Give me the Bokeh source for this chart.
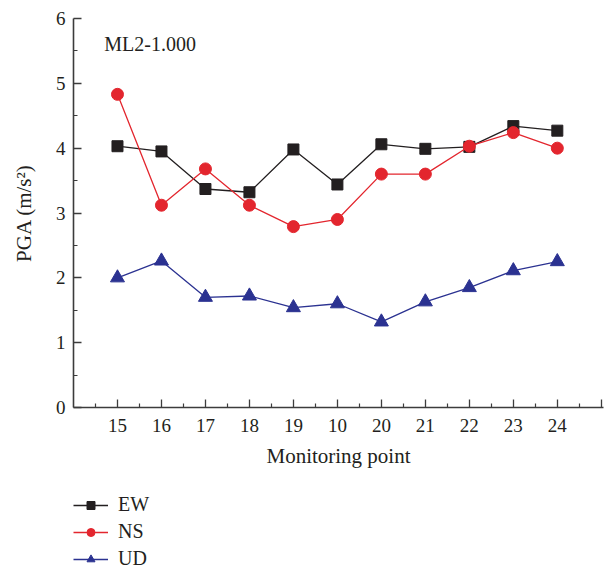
from bokeh.plotting import figure
from bokeh.layouts import column
from bokeh.models import (ColumnDataSource, FixedTicker, Legend, LegendItem, Label, Range1d)
from bokeh.embed import file_html
from bokeh.resources import INLINE

points = ["15", "16", "17", "18", "19", "10", "20", "21", "22", "23", "24"]
ew = [4.03, 3.95, 3.37, 3.32, 3.98, 3.44, 4.06, 3.99, 4.02, 4.34, 4.27]
ns = [4.83, 3.12, 3.68, 3.12, 2.79, 2.90, 3.60, 3.60, 4.03, 4.24, 4.00]
ud = [2.00, 2.26, 1.70, 1.72, 1.54, 1.60, 1.32, 1.63, 1.85, 2.11, 2.25]
y_ticks = [0, 1, 2, 3, 4, 5, 6]

FONT = "Liberation Serif"
TXT = "#231f20"
AX = "#3c3c3c"

idx = list(range(len(points)))
src = ColumnDataSource(dict(x=idx, ew=ew, ns=ns, ud=ud))

c_ew, c_ns, c_ud = "#231f20", "#e3262e", "#2b3291"

p = figure(width=605, height=490, output_backend="svg", toolbar_location=None,
           x_range=Range1d(-1, 11.05), y_range=Range1d(0, 6),
           min_border_left=73, min_border_right=2, min_border_top=18,
           min_border_bottom=83)
p.outline_line_color = None
p.grid.grid_line_color = None


def draw(fig, sizes):
    r = []
    r.append(fig.line("x", "ew", source=src, color=c_ew, line_width=1.3))
    r.append(fig.scatter("x", "ew", source=src, marker="square", size=sizes[0], color=c_ew))
    r.append(fig.line("x", "ns", source=src, color=c_ns, line_width=1.3))
    r.append(fig.scatter("x", "ns", source=src, marker="circle", size=sizes[1], color=c_ns))
    r.append(fig.line("x", "ud", source=src, color=c_ud, line_width=1.3))
    r.append(fig.scatter("x", "ud", source=src, marker="triangle", size=sizes[2], color=c_ud))
    return r


draw(p, (11, 12, 14))

xt = list(range(len(points) + 1))
p.xaxis.ticker = FixedTicker(ticks=xt, minor_ticks=[i + 0.5 for i in range(-1, len(points) + 1)])
overrides = {i: points[i] for i in idx}
overrides[len(points)] = ""
p.xaxis.major_label_overrides = overrides
p.yaxis.ticker = FixedTicker(ticks=y_ticks, minor_ticks=[t + 0.5 for t in y_ticks[:-1]])

for ax in (p.xaxis, p.yaxis):
    ax.axis_line_color = AX
    ax.axis_line_width = 1.6
    ax.major_tick_line_color = AX
    ax.minor_tick_line_color = AX
    ax.major_tick_line_width = 1.3
    ax.minor_tick_line_width = 1.2
    ax.major_tick_in = 8
    ax.minor_tick_in = 4
    ax.major_tick_out = 0
    ax.minor_tick_out = 0
    ax.major_label_text_font = FONT
    ax.major_label_text_font_size = "19px"
    ax.major_label_text_color = TXT
    ax.axis_label_text_font = FONT
    ax.axis_label_text_font_size = "21px"
    ax.axis_label_text_color = TXT
    ax.axis_label_text_font_style = "normal"

p.xaxis.axis_label = "Monitoring point"
p.yaxis.axis_label = "PGA (m/s²)"
p.xaxis.major_label_standoff = 11
p.xaxis.axis_label_standoff = 9
p.yaxis.major_label_standoff = 8
p.yaxis.axis_label_standoff = 17

p.add_layout(Label(x=-0.3, y=5.6, text="ML2-1.000", text_font=FONT, text_font_size="20px",
                   text_color=TXT, text_baseline="middle"))

# legend strip below the chart: same series, out of view, only the legend shows
lf = figure(width=605, height=81, output_backend="svg", toolbar_location=None,
            x_range=Range1d(100, 101), y_range=Range1d(100, 101),
            x_axis_type=None, y_axis_type=None,
            min_border_left=0, min_border_right=0, min_border_top=0, min_border_bottom=0)
lf.outline_line_color = None
lf.grid.grid_line_color = None
rs = draw(lf, (8, 9, 11))

legend = Legend(items=[LegendItem(label="EW", renderers=[rs[0], rs[1]]),
                       LegendItem(label="NS", renderers=[rs[2], rs[3]]),
                       LegendItem(label="UD", renderers=[rs[4], rs[5]])],
                location=(0, 1), orientation="vertical",
                label_text_font=FONT, label_text_font_size="20px", label_text_color=TXT,
                glyph_width=35, glyph_height=20, label_standoff=10, spacing=4,
                padding=0, margin=0, border_line_color=None, background_fill_alpha=0)
lf.add_layout(legend, "center")

layout = column(p, lf, spacing=0)
open("out.html", "w").write(file_html(layout, INLINE))
